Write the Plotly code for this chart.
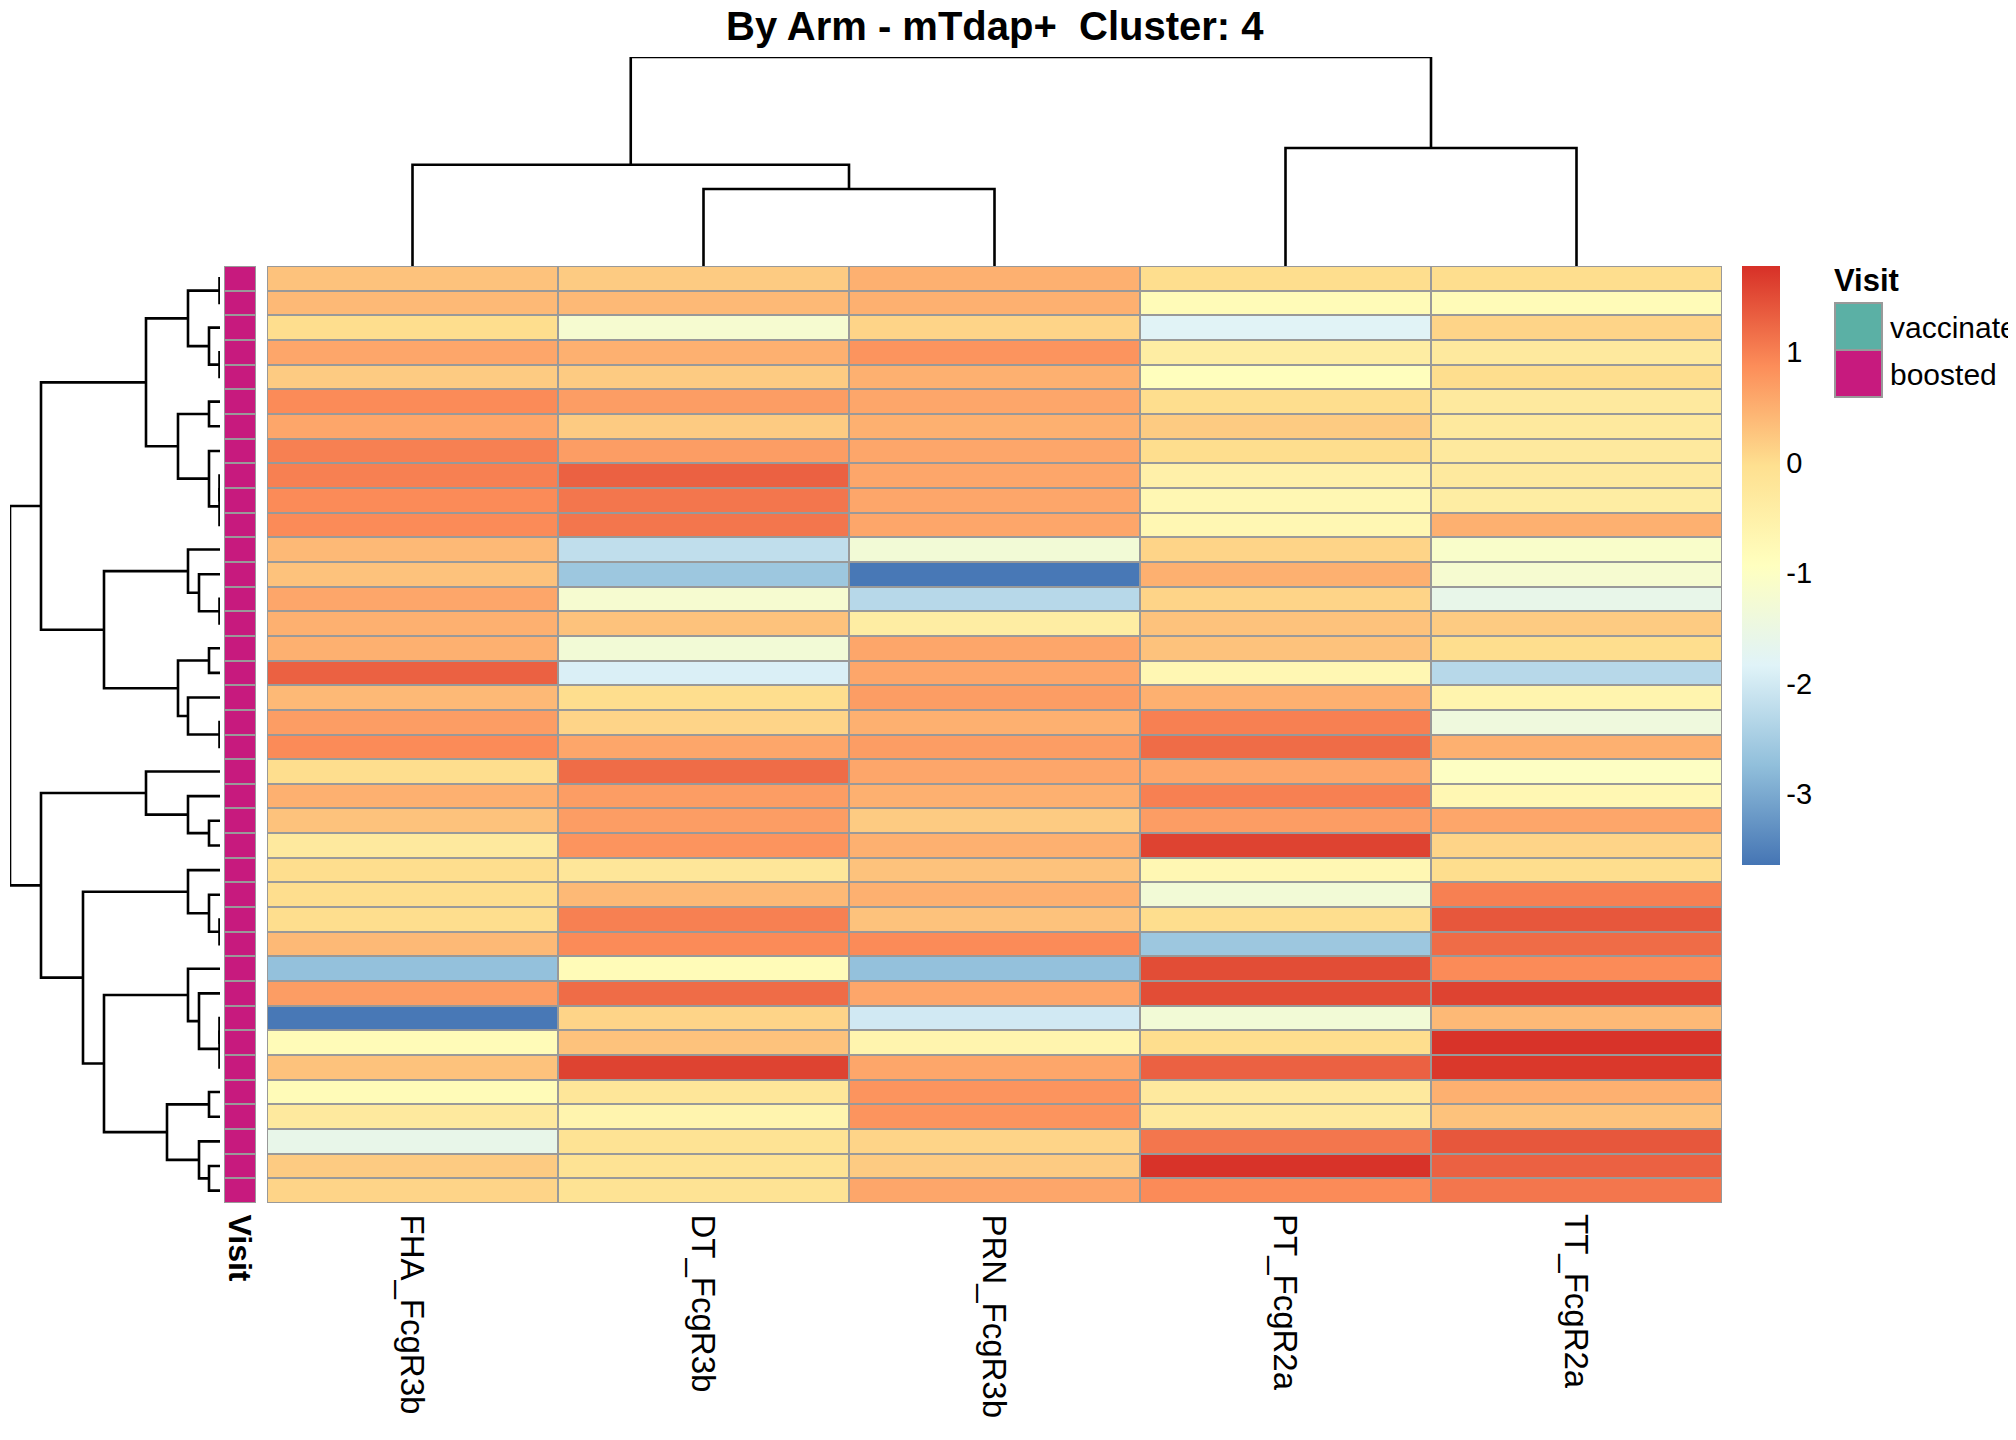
import plotly.graph_objects as go

# ---- data ----
columns = ["FHA_FcgR3b", "DT_FcgR3b", "PRN_FcgR3b", "PT_FcgR2a", "TT_FcgR2a"]
fha = [0.3, 0.4, 0.0, 0.6, 0.2, 0.9, 0.6, 1.0, 1.0, 0.9, 0.9, 0.4, 0.3, 0.6, 0.5, 0.5, 1.3, 0.4, 0.7,
       0.9, 0.0, 0.5, 0.3, -0.3, 0.0, 0.0, 0.0, 0.4, -2.7, 0.7, -3.6, -0.8, 0.3, -0.8, -0.3, -1.6, 0.2, 0.1]
dt = [0.2, 0.4, -1.2, 0.5, 0.2, 0.7, 0.2, 0.7, 1.3, 1.1, 1.1, -2.2, -2.6, -1.2, 0.3, -1.3, -1.9, 0.0, 0.1,
      0.6, 1.2, 0.7, 0.7, 0.8, -0.2, 0.4, 1.0, 0.9, -0.8, 1.2, 0.1, 0.3, 1.6, -0.2, -0.6, -0.1, -0.1, -0.1]
prn = [0.5, 0.5, 0.1, 0.8, 0.5, 0.6, 0.5, 0.6, 0.6, 0.6, 0.6, -1.3, -3.6, -2.3, -0.4, 0.6, 0.6, 0.7, 0.5,
       0.7, 0.6, 0.5, 0.2, 0.5, 0.3, 0.5, 0.3, 0.9, -2.7, 0.6, -2.0, -0.6, 0.6, 0.8, 0.8, 0.1, 0.2, 0.6]
pt = [0.0, -0.8, -1.8, -0.4, -0.9, 0.0, 0.2, 0.0, -0.5, -0.7, -0.7, 0.1, 0.5, 0.1, 0.3, 0.3, -0.7, 0.5, 1.0,
      1.2, 0.6, 1.0, 0.7, 1.6, -0.7, -1.3, 0.0, -2.6, 1.5, 1.5, -1.3, 0.0, 1.3, -0.3, -0.3, 1.1, 1.75, 0.9]
tt = [0.0, -0.8, 0.1, -0.3, 0.0, -0.3, -0.3, -0.3, -0.3, -0.4, 0.5, -1.1, -1.2, -1.6, 0.2, 0.0, -2.3, -0.6, -1.4,
      0.5, -1.0, -0.7, 0.6, 0.1, 0.0, 1.0, 1.4, 1.2, 0.9, 1.6, 0.4, 1.75, 1.7, 0.5, 0.3, 1.4, 1.3, 1.1]
visit = ["boosted"] * 38
colorbar_ticks = [-3, -2, -1, 0, 1]

# dendrograms: (left, right, height)
row_tree = (
    ((((0, 1, 0.5), (2, (3, 4, 0.5), 11), 32),
      ((5, 6, 11), (7, ((8, 9, 0.5), 10, 0.5), 11), 42), 74),
     ((11, (12, (13, 14, 0.5), 21), 32),
      ((15, 16, 11), (17, (18, 19, 0.5), 32), 42), 116), 179),
    ((20, (21, (22, 23, 11), 32), 74),
     ((24, (25, (26, 27, 0.5), 11), 32),
      ((28, (29, ((30, 31, 0.5), 32, 0.5), 21), 32),
       ((33, 34, 11), (35, (36, 37, 11), 21), 53), 116), 137), 179),
    210)
col_tree = ((0, (1, 2, 60), 79), (3, 4, 92), 163)

z = [list(r) for r in zip(fha, dt, prn, pt, tt)]
n_rows = len(z)


def dendro_lines(node, xs, ys):
    if isinstance(node, int):
        return node, 0
    left, right, h = node
    lp, lh = dendro_lines(left, xs, ys)
    rp, rh = dendro_lines(right, xs, ys)
    xs += [lp, lp, rp, rp, None]
    ys += [lh, h, h, rh, None]
    return (lp + rp) / 2, h


W, H = 2016, 1440
OFF = 8  # page body margin


def px(x):
    return (x - OFF) / W


def py(y):
    return 1 - (y - OFF) / H


FONT = "Liberation Sans, Arial, sans-serif"
hx = [px(267), px(1722)]
hy = [py(1203), py(266)]
yr = [n_rows - 0.5, -0.5]

fig = go.Figure()

fig.add_trace(go.Heatmap(
    z=z, x=list(range(5)), y=list(range(n_rows)), xaxis="x", yaxis="y",
    colorscale=[[0, "#4575B4"], [1 / 6, "#91BFDB"], [2 / 6, "#E0F3F8"], [3 / 6, "#FFFFBF"],
                [4 / 6, "#FEE090"], [5 / 6, "#FC8D59"], [1, "#D73027"]],
    zmin=-3.64, zmax=1.78, xgap=2, ygap=2,
    colorbar=dict(x=px(1742), xanchor="left", y=hy[1], yanchor="top", xpad=0, ypad=0,
                  thickness=38, thicknessmode="pixels", len=599, lenmode="pixels",
                  outlinewidth=0, tickvals=colorbar_ticks,
                  ticktext=[str(t) for t in colorbar_ticks], ticks="",
                  tickfont=dict(size=29, family=FONT, color="black"))))

fig.add_trace(go.Heatmap(
    z=[[1] for _ in visit], x=[0], y=list(range(n_rows)), xaxis="x2", yaxis="y2",
    colorscale=[[0, "#C71A7E"], [1, "#C71A7E"]], showscale=False, xgap=2, ygap=2,
    text=[[v] for v in visit], hoverinfo="text"))

rx, ry = [], []
dendro_lines(row_tree, ry, rx)
fig.add_trace(go.Scatter(x=rx, y=ry, mode="lines", xaxis="x3", yaxis="y3",
                         line=dict(color="black", width=2.6), hoverinfo="skip"))
cx, cy = [], []
dendro_lines(col_tree, cx, cy)
fig.add_trace(go.Scatter(x=cx, y=cy, mode="lines", xaxis="x4", yaxis="y4",
                         line=dict(color="black", width=2.6), hoverinfo="skip"))

hidden = dict(showgrid=False, zeroline=False, showticklabels=False, ticks="", showline=False)
fig.update_layout(
    width=W, height=H, margin=dict(l=0, r=0, t=0, b=0),
    plot_bgcolor="white", paper_bgcolor="white", showlegend=False,
    font=dict(family=FONT, color="black"),
    xaxis=dict(domain=hx, range=[-0.5, 4.5], **hidden),
    yaxis=dict(domain=hy, range=yr, **hidden),
    xaxis2=dict(domain=[px(224), px(256)], range=[-0.5, 0.5], anchor="y2", **hidden),
    yaxis2=dict(domain=hy, range=yr, anchor="x2", **hidden),
    xaxis3=dict(domain=[px(10), px(220)], range=[210, 0], anchor="y3", **hidden),
    yaxis3=dict(domain=hy, range=yr, anchor="x3", **hidden),
    xaxis4=dict(domain=hx, range=[-0.5, 4.5], anchor="y4", **hidden),
    yaxis4=dict(domain=[hy[1], py(57)], range=[0, 163], anchor="x4", **hidden),
)

grey = "#999999"
fig.add_shape(type="rect", xref="x", yref="y", x0=-0.5, x1=4.5, y0=-0.5, y1=n_rows - 0.5,
              fillcolor=grey, line=dict(color=grey, width=2), layer="below")
fig.add_shape(type="rect", xref="x2", yref="y2", x0=-0.5, x1=0.5, y0=-0.5, y1=n_rows - 0.5,
              fillcolor=grey, line=dict(color=grey, width=2), layer="below")

# title
fig.add_annotation(text="<b>By Arm - mTdap+  Cluster: 4</b>", xref="paper", yref="paper",
                   x=px(995), y=py(26), xanchor="center", yanchor="middle",
                   showarrow=False, font=dict(size=40))

# column labels
for i, name in enumerate(columns):
    fig.add_annotation(text=name, xref="x", yref="paper", x=i, y=py(1212),
                       yanchor="top", textangle=90, showarrow=False, font=dict(size=33))
fig.add_annotation(text="<b>Visit</b>", xref="x2", yref="paper", x=0, y=py(1212),
                   yanchor="top", textangle=90, showarrow=False, font=dict(size=32))

# Visit legend
fig.add_annotation(text="<b>Visit</b>", xref="paper", yref="paper", x=px(1832), y=py(280),
                   xanchor="left", yanchor="middle", showarrow=False, font=dict(size=31))
for k, (lab, col) in enumerate([("vaccinated", "#5BB0A5"), ("boosted", "#C71A7E")]):
    y0 = 303 + k * 47
    fig.add_shape(type="rect", xref="paper", yref="paper", x0=px(1835), x1=px(1882),
                  y0=py(y0), y1=py(y0 + 47), fillcolor=col,
                  line=dict(color=grey, width=2))
    fig.add_annotation(text=lab, xref="paper", yref="paper", x=px(1888), y=py(y0 + 24),
                       xanchor="left", yanchor="middle", showarrow=False, font=dict(size=30))

fig.write_html("out.html")
